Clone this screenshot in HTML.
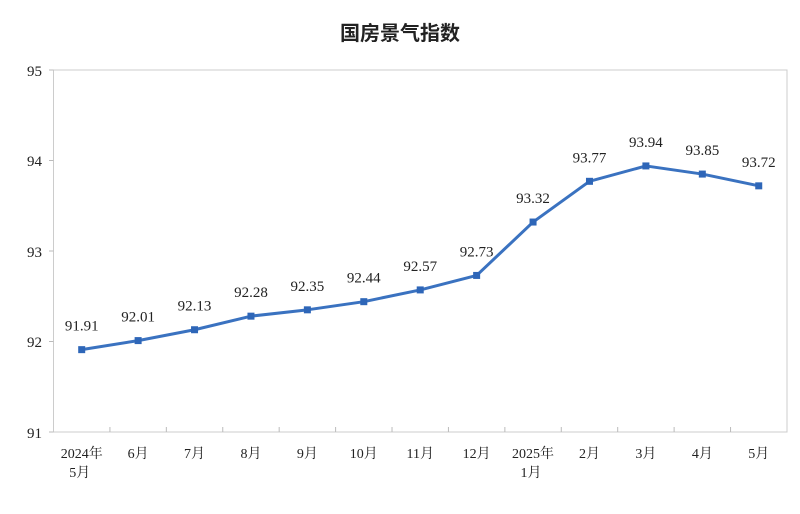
<!DOCTYPE html>
<html><head><meta charset="utf-8"><style>
body{margin:0;background:#fff;}
text{font-family:"Liberation Serif","Noto Serif CJK SC",serif;fill:#222;}
</style></head><body>
<svg width="800" height="509" viewBox="0 0 800 509" xmlns="http://www.w3.org/2000/svg">
<text x="400" y="40" text-anchor="middle" font-size="20" font-weight="bold" style="font-family:'Noto Sans CJK SC',sans-serif">国房景气指数</text>
<rect x="53.5" y="70" width="733.5" height="362" fill="none" stroke="#ccc" stroke-width="1"/>
<g stroke="#bbb" stroke-width="1">
<line x1="49" y1="70" x2="53.5" y2="70"/><line x1="49" y1="160.5" x2="53.5" y2="160.5"/>
<line x1="49" y1="251" x2="53.5" y2="251"/><line x1="49" y1="341.5" x2="53.5" y2="341.5"/>
<line x1="49" y1="432" x2="53.5" y2="432"/>
</g>
<g font-size="15" text-anchor="end">
<text x="42" y="76">95</text><text x="42" y="166">94</text><text x="42" y="257">93</text><text x="42" y="347">92</text><text x="42" y="438">91</text>
</g>
<g id="xt" stroke="#bbb"></g>
<polyline fill="none" stroke="#3a72c0" stroke-width="3" stroke-linejoin="round" id="ln"/>
<g id="pts" fill="#2e66b8"></g>
<g id="lbl" font-size="15" text-anchor="middle"></g>
<g id="xl" font-size="14" text-anchor="middle"></g>
</svg>
<script>
var v=[91.91,92.01,92.13,92.28,92.35,92.44,92.57,92.73,93.32,93.77,93.94,93.85,93.72];
var xl=["2024年|5月","6月","7月","8月","9月","10月","11月","12月","2025年|1月","2月","3月","4月","5月"];
var ns="http://www.w3.org/2000/svg",pts=[];
function el(t,a,p,tx){var e=document.createElementNS(ns,t);for(var k in a)e.setAttribute(k,a[k]);if(tx)e.textContent=tx;document.getElementById(p).appendChild(e);}
for(var i=0;i<13;i++){var x=53.5+28.2+56.42*i,y=432-(v[i]-91)*90.5;pts.push(x+","+y);
el("rect",{x:x-3.5,y:y-3.5,width:7,height:7},"pts");
el("text",{x:x,y:y-19},"lbl",v[i].toFixed(2));
var p=xl[i].split("|");el("text",{x:x,y:458},"xl",p[0]);if(p[1])el("text",{x:x-2,y:477},"xl",p[1]);
if(i>0)el("line",{x1:53.5+56.42*i,y1:427,x2:53.5+56.42*i,y2:432},"xt");}
document.getElementById("ln").setAttribute("points",pts.join(" "));
</script>
</body></html>
